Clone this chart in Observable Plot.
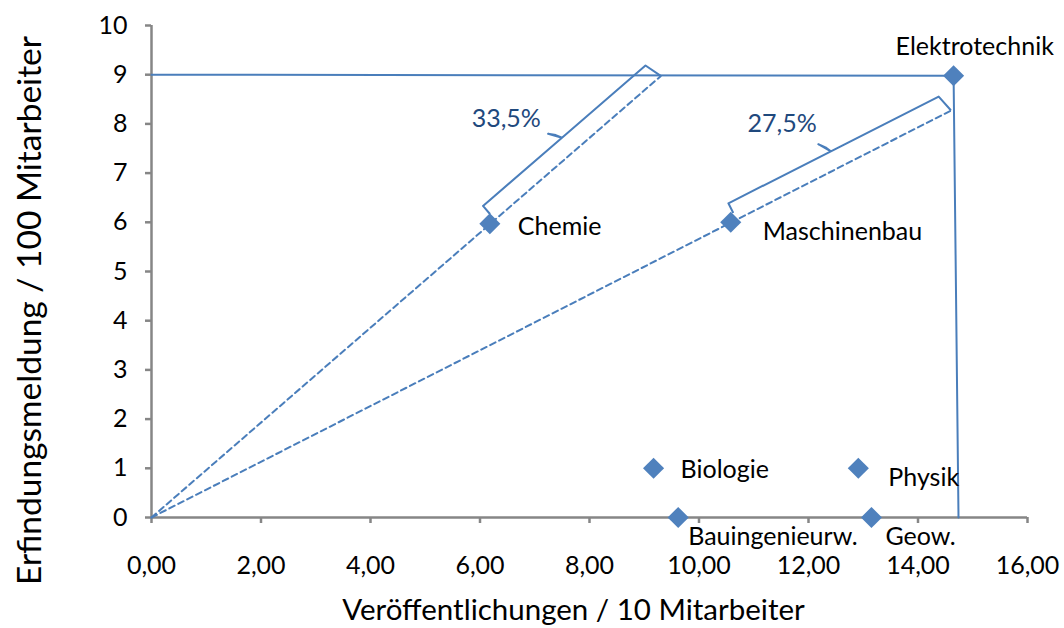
<!DOCTYPE html>
<html><head><meta charset="utf-8">
<script src="https://cdn.jsdelivr.net/npm/d3@7"></script>
<script src="https://cdn.jsdelivr.net/npm/@observablehq/plot@0.6"></script>
<style>body{margin:0;background:#fff}</style>
</head><body><div id="chart"></div>
<script>
// ---- data ----
const fields = ["Elektrotechnik", "Chemie", "Maschinenbau", "Biologie", "Physik", "Bauingenieurw.", "Geow."];
const publications = [14.65, 6.18, 10.58, 9.17, 12.91, 9.62, 13.15];   // Veröffentlichungen / 10 Mitarbeiter
const inventions   = [8.98, 5.97, 6.00, 1.00, 1.00, 0.00, 0.00];       // Erfindungsmeldung / 100 Mitarbeiter
const xTicks = [0, 2, 4, 6, 8, 10, 12, 14, 16];
const yTicks = [0, 1, 2, 3, 4, 5, 6, 7, 8, 9, 10];
// guide lines from Elektrotechnik to the axes
const guideYAtAxis = 9.00;   // horizontal line meets y axis
const guideXAtAxis = 14.74;  // vertical line meets x axis
// dashed rays from the origin through Chemie / Maschinenbau
const rayThrough = ["Chemie", "Maschinenbau"];
const rayEndX = [9.30, 14.60];
const rayEndY = [8.97, 8.27];
// bracket annotations
const bracketLabels = ["33,5%", "27,5%"];
const bracketLabelX = [6.48, 11.52];
const bracketLabelY = [8.09, 7.99];

// ---- layout / style (kept separate) ----
const W = 1064, H = 628, ML = 151, MR = 37, MT = 25, MB = 111;
const labelDx = [-58, 28, 32, 27, 30, 10, 14];
const labelDy = [-29, 3, 10, 2, 10, 19, 19];
const blue = "#4A7EBB", markerBlue = "#4F81BD";
const FONT = "Lato, 'Open Sans', sans-serif";

const points = fields.map((f, i) => ({field: f, x: publications[i], y: inventions[i], dx: labelDx[i], dy: labelDy[i]}));
const elektro = points[0];
const hGuide = [{x: 0, y: guideYAtAxis}, {x: elektro.x, y: elektro.y}];
const vGuide = [{x: elektro.x, y: elektro.y}, {x: guideXAtAxis, y: 0}];
const rays = rayThrough.map((f, i) => [{x: 0, y: 0, k: i}, {x: rayEndX[i], y: rayEndY[i], k: i}]).flat();

const kx = (W - ML - MR) / 16, ky = (H - MT - MB) / 10;
function bracket(a, b, k) {
  const ax = a.x * kx, ay = -a.y * ky, bx = b.x * kx, by = -b.y * ky;
  const L = Math.hypot(bx - ax, by - ay);
  const ux = (bx - ax) / L, uy = (by - ay) / L;
  const px = uy, py = -ux; // perpendicular toward upper-left
  const mx = (ax + bx) / 2, my = (ay + by) / 2;
  const P = (x, y, s, o) => ({x: (x + s * ux + o * px) / kx, y: -(y + s * uy + o * py) / ky, k});
  return [
    P(ax, ay, 6.5, 8), P(ax, ay, 6.5, 18),
    P(mx, my, -2, 18), P(mx, my, -5, 24), P(mx, my, -10, 30),
    P(mx, my, -2, 18), P(bx, by, -4.5, 18), P(bx, by, 0, 1)
  ];
}
const brackets = rayThrough.map((f, i) => {
  const p = points.find(d => d.field === f);
  return bracket(p, {x: rayEndX[i], y: rayEndY[i]}, i);
}).flat();
const bLabels = bracketLabels.map((t, i) => ({t, x: bracketLabelX[i], y: bracketLabelY[i]}));
const fmtX = d => d.toFixed(2).replace(".", ",");

const chart = Plot.plot({
  width: W, height: H,
  marginLeft: ML, marginRight: MR, marginTop: MT, marginBottom: MB,
  style: {fontFamily: FONT, background: "#fff", overflow: "visible"},
  x: {domain: [0, 16]},
  y: {domain: [0, 10]},
  marks: [
    Plot.axisX({ticks: xTicks, tickFormat: fmtX, tickSize: 6, tickPadding: 33, stroke: "#868686", strokeWidth: 2.5, fill: "#000", fontSize: 25, label: null}),
    Plot.axisY({ticks: yTicks, tickSize: 6, tickPadding: 18, stroke: "#868686", strokeWidth: 2.5, fill: "#000", fontSize: 25, label: null}),
    Plot.ruleX([0], {stroke: "#868686", strokeWidth: 2.5}),
    Plot.ruleY([0], {stroke: "#868686", strokeWidth: 2.5}),
    Plot.line(hGuide, {x: "x", y: "y", stroke: blue, strokeWidth: 2}),
    Plot.line(vGuide, {x: "x", y: "y", stroke: blue, strokeWidth: 2}),
    Plot.line(rays, {x: "x", y: "y", z: "k", stroke: blue, strokeWidth: 2, strokeDasharray: "6,4"}),
    Plot.line(brackets, {x: "x", y: "y", z: "k", stroke: blue, strokeWidth: 2, curve: "linear"}),
    Plot.dot(points, {x: "x", y: "y", symbol: "diamond2", r: 9.5, fill: markerBlue, stroke: "none"}),
    ...points.map(p => Plot.text([p], {x: "x", y: "y", text: "field", dx: p.dx, dy: p.dy, textAnchor: "start", fontSize: 25, fill: "#000"})),
    Plot.text(bLabels, {x: "x", y: "y", text: "t", fontSize: 25, fill: "#1F497D"}),
    Plot.text(["Veröffentlichungen / 10 Mitarbeiter"], {frameAnchor: "bottom", lineAnchor: "middle", textAnchor: "middle", dx: -16, dy: 93, fontSize: 29.5, fill: "#000"}),
    Plot.text(["Erfindungsmeldung / 100 Mitarbeiter"], {frameAnchor: "left", lineAnchor: "middle", textAnchor: "middle", rotate: -90, dx: -121, dy: 39, fontSize: 33.5, fill: "#000"})
  ]
});
document.getElementById("chart").appendChild(chart);
</script>
</body></html>
